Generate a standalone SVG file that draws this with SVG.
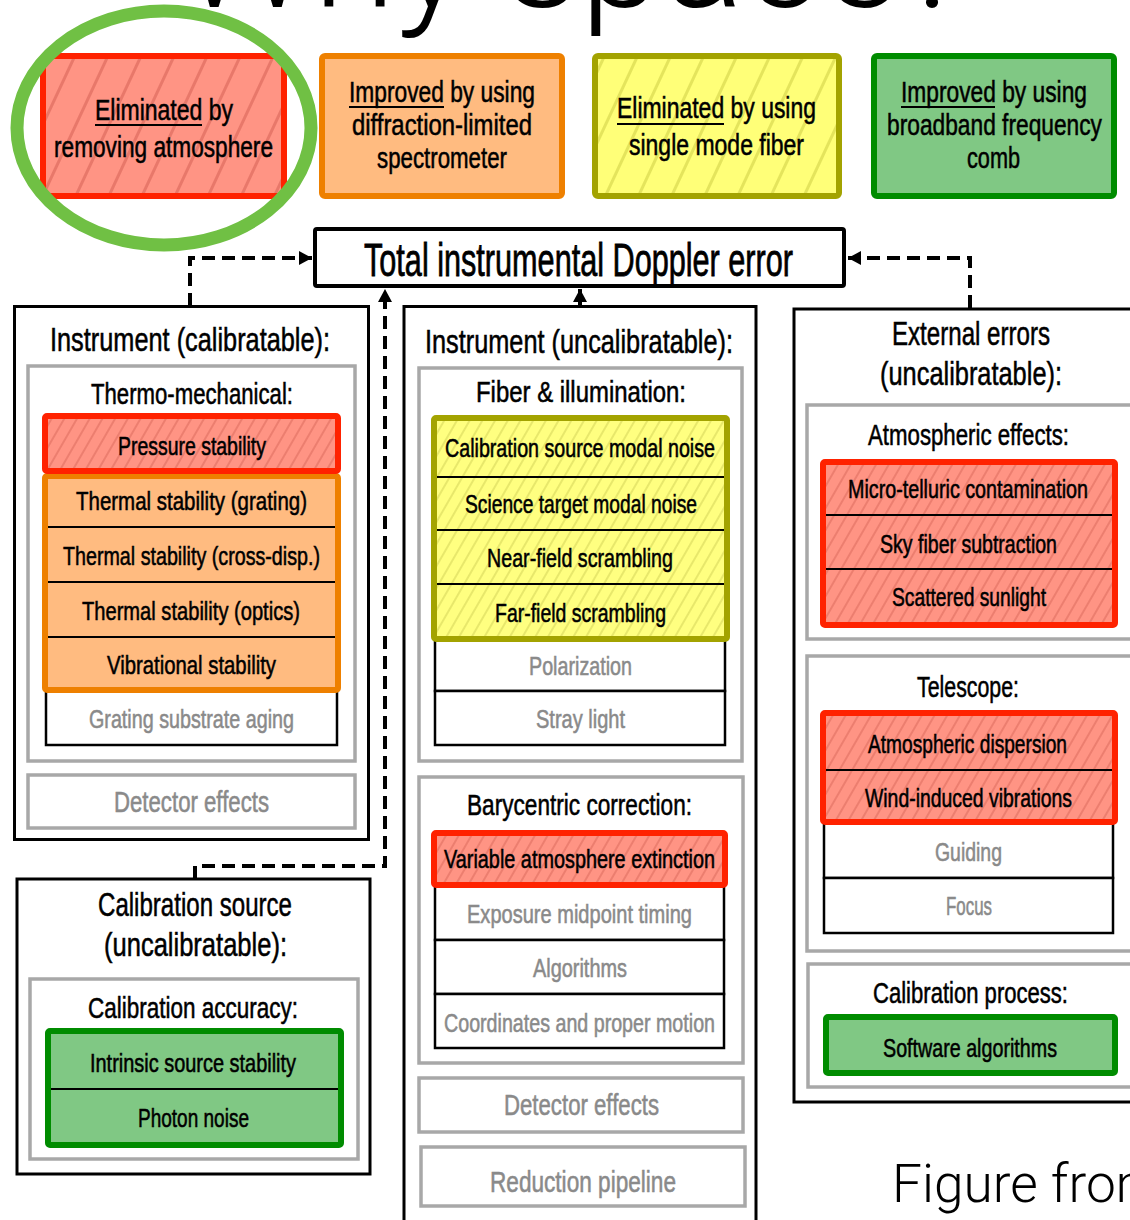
<svg xmlns="http://www.w3.org/2000/svg" width="1130" height="1220" viewBox="0 0 1130 1220">
<style>
text{font-family:"Liberation Sans",Arial,sans-serif;fill:#000;stroke:#000;stroke-width:0.55}
.ttl{font-family:Roboto,"Liberation Sans",sans-serif;font-weight:300;stroke:none}
.lg{font-size:30px}
.tot{font-size:46px;stroke-width:0.8}
.hd{font-size:34px}
.sh{font-size:30px}
.it{font-size:26px}
.gy{fill:#8a8a8a;stroke:#8a8a8a}
.blk{fill:#fff;stroke:#000;stroke-width:3}
.gray{fill:#fff;stroke:#a8a8a8;stroke-width:3.5}
.row{fill:#fff;stroke:#000;stroke-width:2.5}
.red{fill:url(#hr);stroke:#ff2200;stroke-width:6}
.redL{fill:url(#hrL);stroke:#ff2200;stroke-width:6}
.org{fill:#ffbb80;stroke:#ee8000;stroke-width:6}
.yel{fill:url(#hy);stroke:#a3a300;stroke-width:6}
.yelL{fill:url(#hyL);stroke:#a3a300;stroke-width:6}
.grn{fill:#80c884;stroke:#008c00;stroke-width:6}
.div{stroke:#000;stroke-width:2}
.ul{stroke:#000;stroke-width:1.8}
.dash{fill:none;stroke:#000;stroke-width:4;stroke-dasharray:13 7}
.sol{fill:none;stroke:#000;stroke-width:4}
</style>
<defs>
<pattern id="hrL" width="30" height="30" patternUnits="userSpaceOnUse" patternTransform="rotate(25)"><rect width="30" height="30" fill="#ff9484"/><line x1="1.5" y1="0" x2="1.5" y2="30" stroke="#e8786a" stroke-width="3"/></pattern>
<pattern id="hyL" width="30" height="30" patternUnits="userSpaceOnUse" patternTransform="rotate(25)"><rect width="30" height="30" fill="#ffff78"/><line x1="1.5" y1="0" x2="1.5" y2="30" stroke="#e4e45c" stroke-width="3"/></pattern>
<pattern id="hr" width="11" height="11" patternUnits="userSpaceOnUse" patternTransform="rotate(30)"><rect width="11" height="11" fill="#ff9484"/><line x1="1" y1="0" x2="1" y2="11" stroke="#e8786a" stroke-width="1.6"/></pattern>
<pattern id="hy" width="11" height="11" patternUnits="userSpaceOnUse" patternTransform="rotate(30)"><rect width="11" height="11" fill="#ffff80"/><line x1="1" y1="0" x2="1" y2="11" stroke="#e2e266" stroke-width="1.6"/></pattern>
<marker id="ah" markerWidth="14" markerHeight="14" refX="13" refY="7" orient="auto" markerUnits="userSpaceOnUse"><path d="M0,0 L13,7 L0,14 z" fill="#000"/></marker>
</defs>

<text class="ttl" x="178" y="7" font-size="145" textLength="790" lengthAdjust="spacingAndGlyphs">Why space?</text>

<g id="legend-eliminated-atmosphere">
<rect class="redL" x="43" y="56" width="241" height="140" rx="3"/>
<text class="lg" x="95" y="120" textLength="138" lengthAdjust="spacingAndGlyphs">Eliminated by</text>
<line class="ul" x1="95" y1="125" x2="202" y2="125"/>
<text class="lg" x="54" y="157" textLength="219" lengthAdjust="spacingAndGlyphs">removing atmosphere</text>
</g>
<g id="legend-improved-spectrometer">
<rect class="org" x="322" y="56" width="240" height="140" rx="3"/>
<text class="lg" x="349" y="102" textLength="186" lengthAdjust="spacingAndGlyphs">Improved by using</text>
<line class="ul" x1="349" y1="107" x2="444" y2="107"/>
<text class="lg" x="352" y="135" textLength="180" lengthAdjust="spacingAndGlyphs">diffraction-limited</text>
<text class="lg" x="377" y="168" textLength="130" lengthAdjust="spacingAndGlyphs">spectrometer</text>
</g>
<g id="legend-eliminated-fiber">
<rect class="yelL" x="595" y="56" width="244" height="140" rx="3"/>
<text class="lg" x="617" y="118" textLength="199" lengthAdjust="spacingAndGlyphs">Eliminated by using</text>
<line class="ul" x1="617" y1="124" x2="724" y2="124"/>
<text class="lg" x="629" y="155" textLength="175" lengthAdjust="spacingAndGlyphs">single mode fiber</text>
</g>
<g id="legend-improved-comb">
<rect class="grn" x="874" y="56" width="240" height="140" rx="3"/>
<text class="lg" x="901" y="102" textLength="186" lengthAdjust="spacingAndGlyphs">Improved by using</text>
<line class="ul" x1="901" y1="107" x2="995" y2="107"/>
<text class="lg" x="887" y="135" textLength="215" lengthAdjust="spacingAndGlyphs">broadband frequency</text>
<text class="lg" x="967" y="168" textLength="53" lengthAdjust="spacingAndGlyphs">comb</text>
</g>
<g id="highlight-ellipse">
<ellipse cx="164" cy="128" rx="147" ry="117" fill="none" stroke="#70c044" stroke-width="13"/>
</g>

<g id="connectors">
<path class="dash" d="M190,306 V258 H312" marker-end="url(#ah)"/>
<path class="dash" d="M970,308 V258 H848" marker-end="url(#ah)"/>
<path class="dash" d="M195,879 V866 H385 V289" marker-end="url(#ah)"/>
<path class="sol" d="M580,305 V289" marker-end="url(#ah)"/>
</g>

<g id="total">
<rect x="315" y="229" width="529" height="57" fill="#fff" stroke="#000" stroke-width="4" rx="2"/>
<text class="tot" x="364" y="276" textLength="429" lengthAdjust="spacingAndGlyphs">Total instrumental Doppler error</text>
</g>

<g id="instrument-calibratable">
<rect class="blk" x="14.5" y="306.5" width="354" height="533"/>
<text class="hd" x="50" y="351" textLength="280" lengthAdjust="spacingAndGlyphs">Instrument (calibratable):</text>
<rect class="gray" x="28" y="366" width="327" height="395"/>
<text class="sh" x="91" y="404" textLength="202" lengthAdjust="spacingAndGlyphs">Thermo-mechanical:</text>
<rect class="row" x="46" y="690" width="291" height="55"/>
<text class="it gy" x="89" y="728" textLength="205" lengthAdjust="spacingAndGlyphs">Grating substrate aging</text>
<rect class="org" x="45" y="476" width="293" height="214" rx="2"/>
<line class="div" x1="48" y1="527" x2="335" y2="527"/>
<line class="div" x1="48" y1="582" x2="335" y2="582"/>
<line class="div" x1="48" y1="637" x2="335" y2="637"/>
<text class="it" x="76" y="510" textLength="231" lengthAdjust="spacingAndGlyphs">Thermal stability (grating)</text>
<text class="it" x="63" y="565" textLength="257" lengthAdjust="spacingAndGlyphs">Thermal stability (cross-disp.)</text>
<text class="it" x="82" y="620" textLength="218" lengthAdjust="spacingAndGlyphs">Thermal stability (optics)</text>
<text class="it" x="107" y="674" textLength="169" lengthAdjust="spacingAndGlyphs">Vibrational stability</text>
<rect class="red" x="45" y="416" width="293" height="55" rx="2"/>
<text class="it" x="118" y="455" textLength="148" lengthAdjust="spacingAndGlyphs">Pressure stability</text>
<rect class="gray" x="28" y="775" width="327" height="53"/>
<text class="sh gy" x="114" y="812" textLength="155" lengthAdjust="spacingAndGlyphs">Detector effects</text>
</g>

<g id="instrument-uncalibratable">
<rect class="blk" x="404" y="306.5" width="352" height="930"/>
<text class="hd" x="425" y="353" textLength="308" lengthAdjust="spacingAndGlyphs">Instrument (uncalibratable):</text>
<rect class="gray" x="419" y="368" width="323" height="393"/>
<text class="sh" x="476" y="402" textLength="210" lengthAdjust="spacingAndGlyphs">Fiber &amp; illumination:</text>
<rect class="row" x="435" y="638" width="290" height="53"/>
<rect class="row" x="435" y="691" width="290" height="54"/>
<text class="it gy" x="529" y="675" textLength="103" lengthAdjust="spacingAndGlyphs">Polarization</text>
<text class="it gy" x="536" y="728" textLength="89" lengthAdjust="spacingAndGlyphs">Stray light</text>
<rect class="yel" x="434" y="418" width="293" height="221" rx="2"/>
<line class="div" x1="437" y1="477" x2="724" y2="477"/>
<line class="div" x1="437" y1="530" x2="724" y2="530"/>
<line class="div" x1="437" y1="584" x2="724" y2="584"/>
<text class="it" x="445" y="457" textLength="270" lengthAdjust="spacingAndGlyphs">Calibration source modal noise</text>
<text class="it" x="465" y="513" textLength="232" lengthAdjust="spacingAndGlyphs">Science target modal noise</text>
<text class="it" x="487" y="567" textLength="186" lengthAdjust="spacingAndGlyphs">Near-field scrambling</text>
<text class="it" x="495" y="622" textLength="171" lengthAdjust="spacingAndGlyphs">Far-field scrambling</text>

<rect class="gray" x="419" y="777" width="324" height="286"/>
<text class="sh" x="467" y="815" textLength="225" lengthAdjust="spacingAndGlyphs">Barycentric correction:</text>
<rect class="row" x="435" y="886" width="289" height="54"/>
<rect class="row" x="435" y="940" width="289" height="54"/>
<rect class="row" x="435" y="994" width="289" height="54"/>
<text class="it gy" x="467" y="923" textLength="225" lengthAdjust="spacingAndGlyphs">Exposure midpoint timing</text>
<text class="it gy" x="533" y="977" textLength="94" lengthAdjust="spacingAndGlyphs">Algorithms</text>
<text class="it gy" x="444" y="1032" textLength="271" lengthAdjust="spacingAndGlyphs">Coordinates and proper motion</text>
<rect class="red" x="434" y="833" width="291" height="52" rx="2"/>
<text class="it" x="444" y="868" textLength="271" lengthAdjust="spacingAndGlyphs">Variable atmosphere extinction</text>

<rect class="gray" x="419" y="1078" width="324" height="54"/>
<text class="sh gy" x="504" y="1115" textLength="155" lengthAdjust="spacingAndGlyphs">Detector effects</text>
<rect class="gray" x="421" y="1147" width="324" height="59"/>
<text class="sh gy" x="490" y="1192" textLength="186" lengthAdjust="spacingAndGlyphs">Reduction pipeline</text>
</g>

<g id="external-errors">
<rect class="blk" x="794" y="309" width="360" height="793"/>
<text class="hd" x="892" y="345" textLength="158" lengthAdjust="spacingAndGlyphs">External errors</text>
<text class="hd" x="880" y="385" textLength="182" lengthAdjust="spacingAndGlyphs">(uncalibratable):</text>
<rect class="gray" x="807" y="405" width="340" height="234"/>
<text class="sh" x="868" y="445" textLength="201" lengthAdjust="spacingAndGlyphs">Atmospheric effects:</text>
<rect class="red" x="823" y="462" width="292" height="163" rx="2"/>
<line class="div" x1="826" y1="515" x2="1112" y2="515"/>
<line class="div" x1="826" y1="569" x2="1112" y2="569"/>
<text class="it" x="848" y="498" textLength="240" lengthAdjust="spacingAndGlyphs">Micro-telluric contamination</text>
<text class="it" x="880" y="553" textLength="177" lengthAdjust="spacingAndGlyphs">Sky fiber subtraction</text>
<text class="it" x="892" y="606" textLength="154" lengthAdjust="spacingAndGlyphs">Scattered sunlight</text>

<rect class="gray" x="807" y="656" width="340" height="295"/>
<text class="sh" x="917" y="697" textLength="102" lengthAdjust="spacingAndGlyphs">Telescope:</text>
<rect class="row" x="824" y="822" width="289" height="56"/>
<rect class="row" x="824" y="878" width="289" height="55"/>
<text class="it gy" x="935" y="861" textLength="67" lengthAdjust="spacingAndGlyphs">Guiding</text>
<text class="it gy" x="946" y="915" textLength="46" lengthAdjust="spacingAndGlyphs">Focus</text>
<rect class="red" x="823" y="713" width="292" height="109" rx="2"/>
<line class="div" x1="826" y1="770" x2="1112" y2="770"/>
<text class="it" x="868" y="753" textLength="199" lengthAdjust="spacingAndGlyphs">Atmospheric dispersion</text>
<text class="it" x="865" y="807" textLength="207" lengthAdjust="spacingAndGlyphs">Wind-induced vibrations</text>

<rect class="gray" x="808" y="964" width="340" height="123"/>
<text class="sh" x="873" y="1003" textLength="195" lengthAdjust="spacingAndGlyphs">Calibration process:</text>
<rect class="grn" x="826" y="1017" width="289" height="56" rx="2"/>
<text class="it" x="883" y="1057" textLength="174" lengthAdjust="spacingAndGlyphs">Software algorithms</text>
</g>

<g id="calibration-source">
<rect class="blk" x="17" y="879" width="353" height="295"/>
<text class="hd" x="98" y="916" textLength="194" lengthAdjust="spacingAndGlyphs">Calibration source</text>
<text class="hd" x="104" y="956" textLength="183" lengthAdjust="spacingAndGlyphs">(uncalibratable):</text>
<rect class="gray" x="30" y="979" width="328" height="180"/>
<text class="sh" x="88" y="1018" textLength="210" lengthAdjust="spacingAndGlyphs">Calibration accuracy:</text>
<rect class="grn" x="48" y="1031" width="293" height="114" rx="2"/>
<line class="div" x1="51" y1="1089" x2="338" y2="1089"/>
<text class="it" x="90" y="1072" textLength="206" lengthAdjust="spacingAndGlyphs">Intrinsic source stability</text>
<text class="it" x="138" y="1127" textLength="111" lengthAdjust="spacingAndGlyphs">Photon noise</text>
</g>

<text class="ttl" x="892" y="1202" font-size="53" textLength="271" lengthAdjust="spacingAndGlyphs">Figure from</text>
</svg>
